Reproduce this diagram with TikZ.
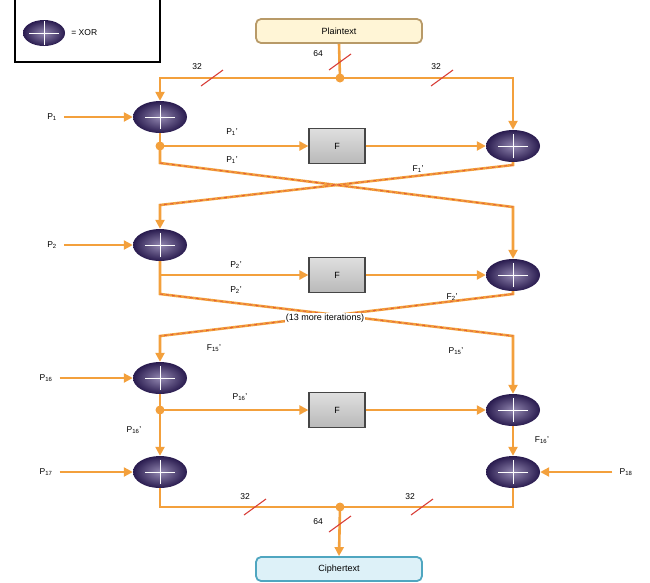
\documentclass[tikz,border=0pt]{standalone}
\usepackage{fontspec}
\setmainfont{Liberation Sans}
\usepackage{tikz}
\usetikzlibrary{arrows.meta,shapes.geometric}
\definecolor{wirecol}{HTML}{F3A03C}
\definecolor{xorcol}{HTML}{3A2670}
\definecolor{slashcol}{HTML}{D8403A}
\definecolor{plainfill}{HTML}{FFF5D6}
\definecolor{plaindraw}{HTML}{B89A68}
\definecolor{cipherfill}{HTML}{DDF1F8}
\definecolor{cipherdraw}{HTML}{4FA6C0}
\tikzset{
  wire/.style={draw=wirecol, line width=2.6pt},
  tip/.style={-{Triangle[length=9pt,width=9pt]}},
  crossdash/.style={draw=slashcol!70!wirecol, line width=0.9pt, dash pattern=on 3pt off 3pt},
  xor/.style={ellipse, minimum width=54pt, minimum height=32pt, inner sep=0pt,
    inner color=xorcol!55!white, outer color=xorcol!70!black,
    path picture={
      \draw[white, line width=0.9pt]
        ([xshift=-15pt]path picture bounding box.center) -- ([xshift=15pt]path picture bounding box.center)
        ([yshift=-12pt]path picture bounding box.center) -- ([yshift=12pt]path picture bounding box.center);}},
  fbox/.style={rectangle, draw=gray!55!black, line width=1.2pt, minimum width=56pt, minimum height=35pt,
    top color=gray!25, bottom color=gray!55, font=\fontsize{9}{10}\selectfont},
  lbl/.style={font=\fontsize{8.5}{9}\selectfont, inner sep=1pt},
  slash/.style={draw=slashcol, line width=1.1pt},
  dot/.style={circle, fill=wirecol, inner sep=0pt, minimum size=9pt}
}
\newcommand\slashmark[2]{\draw[slash] (#1-11,#2+8) -- (#1+11,#2-8);}
\begin{document}
\begin{tikzpicture}[x=1pt,y=-1pt]
\useasboundingbox (0,0) rectangle (650,582);
% legend
\draw[line width=1.2pt] (15,0) -- (15,62) -- (160,62) -- (160,0);
\node[xor, minimum width=42pt, minimum height=26pt] (legxor) at (44,33) {};
\node[lbl, right=5pt] (legtxt) at (legxor.east) {= XOR};
% text boxes
\node[rectangle, rounded corners=5pt, draw=plaindraw, line width=1.8pt, fill=plainfill,
  minimum width=166pt, minimum height=24pt, font=\fontsize{9}{10}\selectfont] (plain) at (339,31) {Plaintext};
\node[rectangle, rounded corners=5pt, draw=cipherdraw, line width=1.8pt, fill=cipherfill,
  minimum width=166pt, minimum height=24pt, font=\fontsize{9}{10}\selectfont] (cipher) at (339,569) {Ciphertext};
% xor units and f boxes
\node[xor] (xorL1) at (160,117) {};
\node[xor] (xorR1) at (513,146) {};
\node[xor] (xorL2) at (160,245) {};
\node[xor] (xorR2) at (513,275) {};
\node[xor] (xorL3) at (160,378) {};
\node[xor] (xorR3) at (513,410) {};
\node[xor] (xorL4) at (160,472) {};
\node[xor] (xorR4) at (513,472) {};
\node[fbox] (fbox1) at (337,146) {F};
\node[fbox] (fbox2) at (337,275) {F};
\node[fbox] (fbox3) at (337,410) {F};
% junctions and corners
\coordinate (jTop) at (340,78);
\coordinate (jL1) at (160,146);
\coordinate (jL2) at (160,275);
\coordinate (jL3) at (160,410);
\coordinate (jBot) at (340,507);
\coordinate (cL1a) at (160,163);
\coordinate (cR1a) at (513,165);
\coordinate (cL1b) at (160,205);
\coordinate (cR1b) at (513,207);
\coordinate (cL2a) at (160,294);
\coordinate (cR2a) at (513,294);
\coordinate (cL2b) at (160,336);
\coordinate (cR2b) at (513,336);
\coordinate (bL) at (160,507);
\coordinate (bR) at (513,507);
% plaintext split
\draw[wire] (plain.south) -- (jTop);
\draw[wire,tip] (jTop) -| (xorL1.north);
\draw[wire,tip] (jTop) -| (xorR1.north);
% round 1
\draw[wire] (xorL1.south) -- (jL1);
\draw[wire,tip] (jL1) -- (fbox1.west);
\draw[wire,tip] (fbox1.east) -- (xorR1.west);
\draw[wire,tip] (jL1) -- (cL1a) -- (cR1b) -- (xorR2.north);
\draw[wire,tip] (xorR1.south) -- (cR1a) -- (cL1b) -- (xorL2.north);
\draw[crossdash] (cL1a) -- (cR1b) (cR1a) -- (cL1b);
% round 2
\draw[wire,tip] (jL2) -- (fbox2.west);
\draw[wire,tip] (fbox2.east) -- (xorR2.west);
\draw[wire,tip] (xorL2.south) -- (cL2a) -- (cR2b) -- (xorR3.north);
\draw[wire,tip] (xorR2.south) -- (cR2a) -- (cL2b) -- (xorL3.north);
\draw[crossdash] (cL2a) -- (cR2b) (cR2a) -- (cL2b);
% round 3
\draw[wire] (xorL3.south) -- (jL3);
\draw[wire,tip] (jL3) -- (fbox3.west);
\draw[wire,tip] (fbox3.east) -- (xorR3.west);
\draw[wire,tip] (jL3) -- (xorL4.north);
\draw[wire,tip] (xorR3.south) -- (xorR4.north);
% output
\draw[wire] (xorL4.south) -- (bL) -- (jBot);
\draw[wire] (xorR4.south) -- (bR) -- (jBot);
\draw[wire,tip] (jBot) -- (cipher.north);
\node[dot] (dTop) at (jTop) {};
\node[dot] (dL1) at (jL1) {};
\node[dot] (dL3) at (jL3) {};
\node[dot] (dBot) at (jBot) {};
% subkeys
\node[lbl] (kP1) at (52,117) {P\textsubscript{1}};
\node[lbl] (kP2) at (52,245) {P\textsubscript{2}};
\node[lbl] (kP16) at (46,378) {P\textsubscript{16}};
\node[lbl] (kP17) at (46,472) {P\textsubscript{17}};
\node[lbl] (kP18) at (626,472) {P\textsubscript{18}};
\draw[wire,tip] (kP1.east) ++(6,0) coordinate (sP1) (sP1) -- (xorL1.west);
\draw[wire,tip] (kP2.east) ++(6,0) coordinate (sP2) (sP2) -- (xorL2.west);
\draw[wire,tip] (kP16.east) ++(6,0) coordinate (sP16) (sP16) -- (xorL3.west);
\draw[wire,tip] (kP17.east) ++(6,0) coordinate (sP17) (sP17) -- (xorL4.west);
\draw[wire,tip] (kP18.west) ++(-6,0) coordinate (sP18) (sP18) -- (xorR4.east);
% wire labels
\node[lbl] (wP1a) at (232,132) {P\textsubscript{1}'};
\node[lbl] (wP1b) at (232,160) {P\textsubscript{1}'};
\node[lbl] (wF1) at (418,169) {F\textsubscript{1}'};
\node[lbl] (wP2a) at (236,265) {P\textsubscript{2}'};
\node[lbl] (wP2b) at (236,290) {P\textsubscript{2}'};
\node[lbl] (wF2) at (452,297) {F\textsubscript{2}'};
\node[lbl, fill=white, inner sep=0.5pt, font=\fontsize{9}{10}\selectfont] (more) at (325,318) {(13 more iterations)};
\node[lbl] (wF15) at (214,348) {F\textsubscript{15}'};
\node[lbl] (wP15) at (456,351) {P\textsubscript{15}'};
\node[lbl] (wP16a) at (240,397) {P\textsubscript{16}'};
\node[lbl] (wP16b) at (134,430) {P\textsubscript{16}'};
\node[lbl] (wF16) at (542,440) {F\textsubscript{16}'};
% bit widths
\slashmark{212}{78}
\slashmark{442}{78}
\slashmark{340}{62}
\slashmark{255}{507}
\slashmark{422}{507}
\slashmark{340}{524}
\node[lbl] (n32a) at (197,67) {32};
\node[lbl] (n32b) at (436,67) {32};
\node[lbl] (n64a) at (318,54) {64};
\node[lbl] (n32c) at (245,497) {32};
\node[lbl] (n32d) at (410,497) {32};
\node[lbl] (n64b) at (318,522) {64};
\end{tikzpicture}
\end{document}
